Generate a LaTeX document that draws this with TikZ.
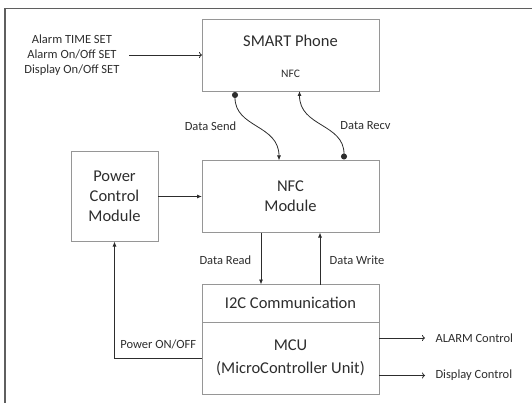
\documentclass[tikz,border=0pt]{standalone}
\usepackage{fontspec}
\setmainfont{Carlito}
\usepackage{xcolor}
\usetikzlibrary{arrows.meta, positioning}

\definecolor{boxgray}{RGB}{150,150,150}
\definecolor{inkgray}{RGB}{45,45,45}
\definecolor{framegray}{RGB}{95,95,95}

\begin{document}
\begin{tikzpicture}[
    x=1pt, y=-1pt,
    block/.style={rectangle, draw=boxgray, line width=0.9pt, outer sep=0pt, text=inkgray, font=\fontsize{16.5}{20}\selectfont, align=center, minimum width=177pt},
    lbl/.style={text=inkgray, font=\fontsize{12.5}{15}\selectfont, align=center},
    line/.style={draw=inkgray, line width=0.8pt, -{Latex[length=5pt,width=4pt]}},
    dotline/.style={line, {Circle[length=6pt]}-{Latex[length=5pt,width=4pt]}},
    outline/.style={draw=inkgray, line width=0.8pt, -{To[length=3pt,width=6pt]}},
    frame/.style={draw=framegray, line width=1.6pt},
    node distance=44pt
]
\useasboundingbox (0,0) rectangle (532,403);

% Frame
\draw[frame] (5,403) -- (5,8.5) -- (532,8.5);

% Blocks
\node[block, minimum height=72pt] (phone) at (290.5,55) {};
\node[text=inkgray, font=\fontsize{16.5}{20}\selectfont] (phonename) at ([yshift=-21.7pt]phone.north) {SMART Phone};
\node[text=inkgray, font=\fontsize{11.5}{14}\selectfont] (phonenfc) at ([yshift=17pt]phone.south) {NFC};
\node[block, minimum height=72pt, below=69.5pt of phone] (nfc) {NFC\\Module};
\node[block, minimum width=87pt, minimum height=90pt, left=of nfc] (power) {Power\\Control\\Module};
\node[block, minimum height=37.5pt, below=52pt of nfc] (i2c) {I2C Communication};
\node[block, minimum height=72pt, below=0pt of i2c] (mcu) {MCU\\[3pt](MicroController Unit)};

% Outside labels
\node[lbl, left=79pt of phone] (inputs) {Alarm TIME SET\\Alarm On/Off SET\\Display On/Off SET};
\node[lbl, anchor=west] (alarm) at ([xshift=53pt, yshift=20pt]mcu.east) {ALARM Control};
\node[lbl, anchor=west] (display) at ([xshift=53pt, yshift=-17.5pt]mcu.east) {Display Control};

% Connections
\draw[outline] ([xshift=6pt]inputs.east) -- (inputs.east -| phone.west);
\draw[dotline] ([xshift=-55.5pt, yshift=-1pt]phone.south)
    .. controls +(0,36) and +(0,-36) .. node[lbl, pos=0.5, left=17pt] (sendlbl) {Data Send} ([xshift=-11.5pt]nfc.north);
\draw[dotline] ([xshift=53.5pt, yshift=1pt]nfc.north)
    .. controls +(0,-36) and +(0,36) .. node[lbl, pos=0.5, right=15pt] (recvlbl) {Data Recv} ([xshift=9pt]phone.south);
\draw[line] (power) -- (nfc);
\draw[line] ([xshift=-29.5pt]nfc.south) -- node[lbl, left=6pt, yshift=-2pt] (readlbl) {Data Read} ([xshift=-29.5pt]i2c.north);
\draw[line] ([xshift=29.5pt]i2c.north) -- node[lbl, right=6pt, yshift=-2pt] (writelbl) {Data Write} ([xshift=29.5pt]nfc.south);
\draw[line] (mcu.west) -- node[lbl, above=5pt] (pwrlbl) {Power ON/OFF} (mcu.west -| power.south) -- (power.south);
\draw[outline] ([yshift=20pt]mcu.east) -- ([xshift=-7pt]alarm.west);
\draw[outline] ([yshift=-17.5pt]mcu.east) -- ([xshift=-7pt]display.west);

\end{tikzpicture}
\end{document}
